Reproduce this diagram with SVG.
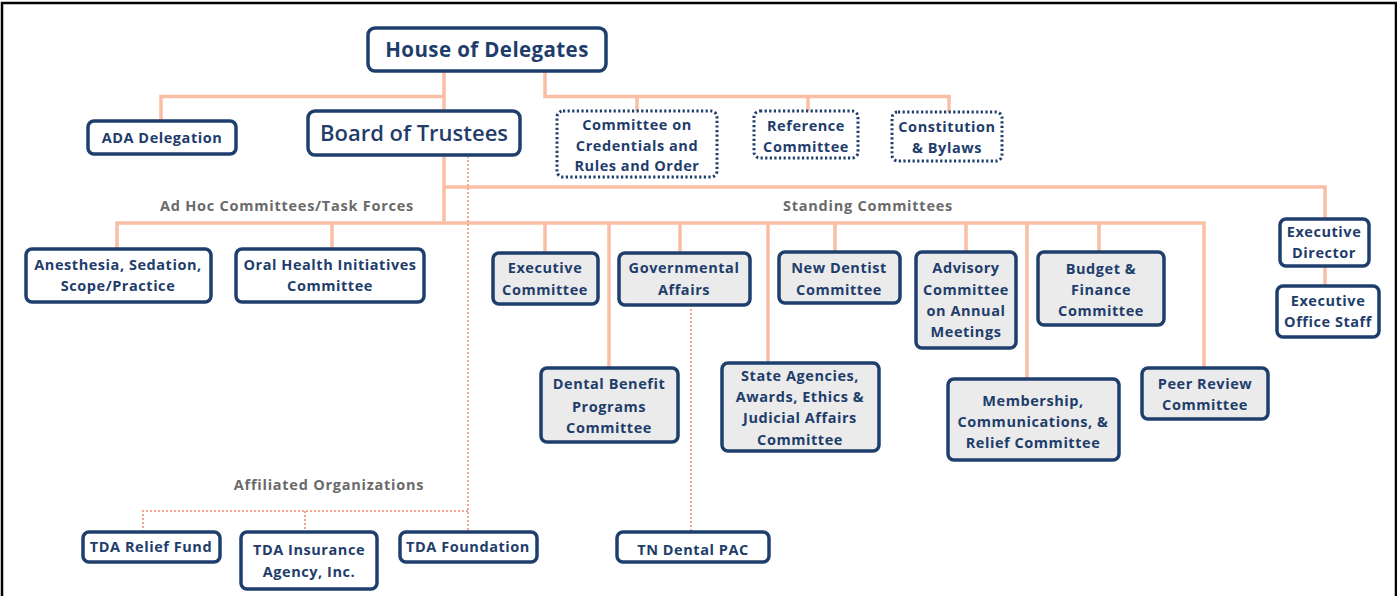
<svg xmlns="http://www.w3.org/2000/svg" width="1397" height="596" viewBox="0 0 1397 596">
  <style>
    .box { fill: #ffffff; stroke: #1e3f6e; stroke-width: 3.5; }
    .gray { fill: #ebebeb; }
    .dot { fill: #ffffff; stroke: #1e3f6e; stroke-width: 3; stroke-dasharray: 2.2 2.4; }
    .t { font-family: "Open Sans", "Liberation Sans", sans-serif; font-weight: 700; font-size: 14.5px; letter-spacing: 0.55px; fill: #1f3d6b; text-anchor: middle; }
    .lbl { fill: #6a6a6a; letter-spacing: 0.75px; }
    .ln { fill: none; stroke: #f9bea5; stroke-width: 3.5; }
    .dl { fill: none; stroke: #f4a78d; stroke-width: 2; stroke-dasharray: 2 2; }
  </style>

  <rect x="0" y="0" width="1397" height="596" fill="#ffffff"/>
  <!-- page frame -->
  <path d="M2,597 V3 H1396 V597" fill="none" stroke="#000000" stroke-width="2.5"/>

  <g id="connectors">
    <path class="ln" d="M444,71 V111"/>
    <path class="ln" d="M444,96.5 H161 V121"/>
    <path class="ln" d="M545,71 V96.5 H949 V112"/>
    <path class="ln" d="M637,96.5 V111"/>
    <path class="ln" d="M808,96.5 V111"/>
    <path class="ln" d="M444,156 V223"/>
    <path class="ln" d="M444,187 H1325 V219"/>
    <path class="ln" d="M117,249 V223 H1204 V368"/>
    <path class="ln" d="M332,223 V249"/>
    <path class="ln" d="M545,223 V253"/>
    <path class="ln" d="M609,223 V368"/>
    <path class="ln" d="M680,223 V253"/>
    <path class="ln" d="M768,223 V363"/>
    <path class="ln" d="M835,223 V252"/>
    <path class="ln" d="M966,223 V252"/>
    <path class="ln" d="M1027,223 V379"/>
    <path class="ln" d="M1099,223 V252"/>
    <path class="ln" d="M1325,266 V286"/>
    <path class="dl" d="M468,156 V532"/>
    <path class="dl" d="M143,532 V511 H468"/>
    <path class="dl" d="M305,511 V532"/>
    <path class="dl" d="M691,305 V532"/>
  </g>

  <g id="labels">
    <text class="t lbl" x="287" y="211">Ad Hoc Committees/Task Forces</text>
    <text class="t lbl" x="868" y="211">Standing Committees</text>
    <text class="t lbl" x="329" y="490">Affiliated Organizations</text>
  </g>

  <g id="house-of-delegates">
    <rect class="box" x="368" y="28" width="238" height="43" rx="7"/>
    <text class="t" x="487" y="57" style="font-size:20.5px;letter-spacing:0.4px">House of Delegates</text>
  </g>
  <g id="ada-delegation">
    <rect class="box" x="88" y="121" width="148" height="33" rx="6"/>
    <text class="t" x="162" y="143">ADA Delegation</text>
  </g>
  <g id="board-of-trustees">
    <rect class="box" x="308" y="111" width="212" height="44" rx="7"/>
    <text class="t" x="414" y="141" style="font-size:22px;font-weight:600;letter-spacing:0">Board of Trustees</text>
  </g>
  <g id="credentials-committee">
    <rect class="dot" x="557" y="111" width="160" height="66" rx="6"/>
    <text class="t" x="637" y="130">Committee on</text>
    <text class="t" x="637" y="151">Credentials and</text>
    <text class="t" x="637" y="171">Rules and Order</text>
  </g>
  <g id="reference-committee">
    <rect class="dot" x="754" y="111" width="104" height="47" rx="6"/>
    <text class="t" x="806" y="131">Reference</text>
    <text class="t" x="806" y="152">Committee</text>
  </g>
  <g id="constitution-bylaws">
    <rect class="dot" x="892" y="112" width="110" height="49" rx="6"/>
    <text class="t" x="947" y="132">Constitution</text>
    <text class="t" x="947" y="153">&amp; Bylaws</text>
  </g>

  <g id="anesthesia">
    <rect class="box" x="26" y="249" width="185" height="53" rx="6"/>
    <text class="t" x="118" y="270">Anesthesia, Sedation,</text>
    <text class="t" x="118" y="291">Scope/Practice</text>
  </g>
  <g id="oral-health">
    <rect class="box" x="236" y="249" width="188" height="53" rx="6"/>
    <text class="t" x="330" y="270">Oral Health Initiatives</text>
    <text class="t" x="330" y="291">Committee</text>
  </g>

  <g id="executive-committee">
    <rect class="box gray" x="493" y="253" width="105" height="51" rx="6"/>
    <text class="t" x="545" y="273">Executive</text>
    <text class="t" x="545" y="295">Committee</text>
  </g>
  <g id="governmental-affairs">
    <rect class="box gray" x="619" y="253" width="131" height="52" rx="6"/>
    <text class="t" x="684" y="273">Governmental</text>
    <text class="t" x="684" y="295">Affairs</text>
  </g>
  <g id="dental-benefit">
    <rect class="box gray" x="541" y="368" width="137" height="74" rx="6"/>
    <text class="t" x="609" y="389">Dental Benefit</text>
    <text class="t" x="609" y="412">Programs</text>
    <text class="t" x="609" y="433">Committee</text>
  </g>
  <g id="state-agencies">
    <rect class="box gray" x="722" y="363" width="157" height="88" rx="6"/>
    <text class="t" x="800" y="381">State Agencies,</text>
    <text class="t" x="800" y="402">Awards, Ethics &amp;</text>
    <text class="t" x="800" y="423">Judicial Affairs</text>
    <text class="t" x="800" y="445">Committee</text>
  </g>
  <g id="new-dentist">
    <rect class="box gray" x="779" y="252" width="121" height="51" rx="6"/>
    <text class="t" x="839" y="273">New Dentist</text>
    <text class="t" x="839" y="295">Committee</text>
  </g>
  <g id="advisory-annual-meetings">
    <rect class="box gray" x="916" y="252" width="100" height="96" rx="6"/>
    <text class="t" x="966" y="273">Advisory</text>
    <text class="t" x="966" y="295">Committee</text>
    <text class="t" x="966" y="316">on Annual</text>
    <text class="t" x="966" y="337">Meetings</text>
  </g>
  <g id="budget-finance">
    <rect class="box gray" x="1038" y="252" width="126" height="73" rx="6"/>
    <text class="t" x="1101" y="274">Budget &amp;</text>
    <text class="t" x="1101" y="295">Finance</text>
    <text class="t" x="1101" y="316">Committee</text>
  </g>
  <g id="membership">
    <rect class="box gray" x="948" y="379" width="171" height="81" rx="6"/>
    <text class="t" x="1033" y="406">Membership,</text>
    <text class="t" x="1033" y="427">Communications, &amp;</text>
    <text class="t" x="1033" y="448">Relief Committee</text>
  </g>
  <g id="peer-review">
    <rect class="box gray" x="1142" y="368" width="126" height="51" rx="6"/>
    <text class="t" x="1205" y="389">Peer Review</text>
    <text class="t" x="1205" y="410">Committee</text>
  </g>

  <g id="executive-director">
    <rect class="box" x="1280" y="219" width="89" height="47" rx="6"/>
    <text class="t" x="1324" y="237">Executive</text>
    <text class="t" x="1324" y="258">Director</text>
  </g>
  <g id="executive-office-staff">
    <rect class="box" x="1277" y="286" width="102" height="51" rx="6"/>
    <text class="t" x="1328" y="306">Executive</text>
    <text class="t" x="1328" y="327">Office Staff</text>
  </g>

  <g id="tda-relief-fund">
    <rect class="box" x="83" y="532" width="137" height="30" rx="6"/>
    <text class="t" x="151" y="552">TDA Relief Fund</text>
  </g>
  <g id="tda-insurance">
    <rect class="box" x="241" y="532" width="136" height="57" rx="6"/>
    <text class="t" x="309" y="555">TDA Insurance</text>
    <text class="t" x="309" y="577">Agency, Inc.</text>
  </g>
  <g id="tda-foundation">
    <rect class="box" x="400" y="532" width="137" height="30" rx="6"/>
    <text class="t" x="468" y="552">TDA Foundation</text>
  </g>
  <g id="tn-dental-pac">
    <rect class="box" x="617" y="532" width="152" height="30" rx="6"/>
    <text class="t" x="693" y="555">TN Dental PAC</text>
  </g>
</svg>
